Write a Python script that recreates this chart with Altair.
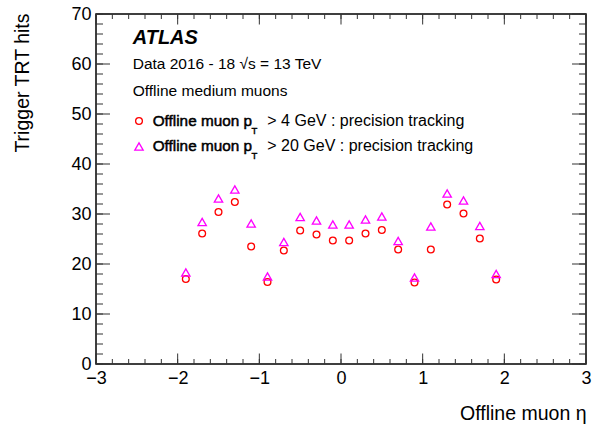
import altair as alt
import pandas as pd

# ---- data ----
eta = [-1.9, -1.7, -1.5, -1.3, -1.1, -0.9, -0.7, -0.5, -0.3, -0.1,
       0.1, 0.3, 0.5, 0.7, 0.9, 1.1, 1.3, 1.5, 1.7, 1.9]
hits_pt4 = [17.0, 26.1, 30.4, 32.4, 23.5, 16.4, 22.7, 26.7, 25.9, 24.7,
            24.7, 26.1, 26.8, 22.9, 16.3, 22.9, 31.9, 30.1, 25.1, 16.9]
hits_pt20 = [18.3, 28.4, 33.1, 34.9, 28.1, 17.5, 24.4, 29.4, 28.7, 27.9,
             27.9, 28.9, 29.5, 24.6, 17.3, 27.5, 34.1, 32.7, 27.6, 18.0]

x_labels = [-3, -2, -1, 0, 1, 2, 3]
y_labels = [0, 10, 20, 30, 40, 50, 60, 70]
x_minor = [round(-3 + 0.2 * i, 1) for i in range(31)]
y_minor = list(range(0, 71, 2))

W, H = 490, 350
FONT = "Liberation Sans"

pts = pd.DataFrame({"eta": eta, "pt4": hits_pt4, "pt20": hits_pt20})
xs = alt.Scale(domain=[-3, 3], nice=False, zero=False)
ys = alt.Scale(domain=[0, 70], nice=False, zero=False)

x_axis = alt.Axis(values=x_labels, ticks=False, tickSize=0, domain=False, grid=False,
                  labelFont=FONT, labelFontSize=18, labelColor="black", labelPadding=5,
                  labelFlush=False, labelOverlap=False,
                  title="Offline muon η", titleFont=FONT, titleFontSize=19.5,
                  titleFontWeight="normal", titleColor="black",
                  titleX=W, titleY=55, titleAlign="right", titleBaseline="alphabetic")
y_axis = alt.Axis(values=y_labels, ticks=False, tickSize=0, domain=False, grid=False,
                  labelFont=FONT, labelFontSize=18, labelColor="black", labelPadding=5,
                  labelFlush=False, labelOverlap=False,
                  title="Trigger TRT hits", titleFont=FONT, titleFontSize=19.5,
                  titleFontWeight="normal", titleColor="black", titleAngle=270,
                  titleX=-68, titleY=-1, titleAlign="right", titleBaseline="alphabetic")

circ = alt.Chart(pts).mark_point(shape="circle", filled=False, color="#ff0000", size=46,
                                 strokeWidth=1.3, opacity=1).encode(
    x=alt.X("eta:Q", scale=xs, axis=x_axis),
    y=alt.Y("pt4:Q", scale=ys, axis=y_axis))
tri = alt.Chart(pts).mark_point(shape="triangle-up", filled=False, color="#ff00ff", size=70,
                                strokeWidth=1.3, opacity=1).encode(
    x=alt.X("eta:Q", scale=xs, axis=x_axis),
    y=alt.Y("pt20:Q", scale=ys, axis=y_axis))

TICK_COLOR = "#333333"


def xticks(vals, length, top):
    df = pd.DataFrame({"v": vals})
    if top:
        yy, yy2 = alt.value(0), alt.value(length)
    else:
        yy, yy2 = alt.value(H), alt.value(H - length)
    return alt.Chart(df).mark_rule(color=TICK_COLOR, strokeWidth=1).encode(
        x=alt.X("v:Q", scale=xs, axis=x_axis), y=yy, y2=yy2)


def yticks(vals, length, right):
    df = pd.DataFrame({"v": vals})
    if right:
        xx, xx2 = alt.value(W), alt.value(W - length)
    else:
        xx, xx2 = alt.value(0), alt.value(length)
    return alt.Chart(df).mark_rule(color=TICK_COLOR, strokeWidth=1).encode(
        y=alt.Y("v:Q", scale=ys, axis=y_axis), x=xx, x2=xx2)


ticks = [
    xticks(x_labels, 10.5, False), xticks(x_minor, 5, False),
    xticks(x_labels, 10.5, True), xticks(x_minor, 5, True),
    yticks(y_labels, 14, False), yticks(y_minor, 7, False),
    yticks(y_labels, 14, True), yticks(y_minor, 7, True),
]


def txt(s, x, y, size, **kw):
    return alt.Chart(pd.DataFrame({"t": [s]})).mark_text(
        align="left", baseline="alphabetic", font=FONT, fontSize=size, color="black", **kw
    ).encode(x=alt.value(x), y=alt.value(y), text="t:N")


def marker(shape, color, size, x, y):
    return alt.Chart(pd.DataFrame({"k": [0]})).mark_point(
        shape=shape, filled=False, color=color, size=size, strokeWidth=1.3, opacity=1
    ).encode(x=alt.value(x), y=alt.value(y))


texts = [
    txt("ATLAS", 36.7, 29.5, 20, fontWeight="bold", fontStyle="italic"),
    txt("Data 2016 - 18  √s = 13 TeV", 36.7, 55, 15.5),
    txt("Offline medium muons", 36.7, 82, 15.5),
    txt("Offline muon p", 56.7, 111.5, 15.3, stroke="black", strokeWidth=0.5),
    txt("T", 155.5, 120, 9.5, stroke="black", strokeWidth=0.4),
    txt("> 4 GeV : precision tracking", 171.3, 111.5, 16),
    txt("Offline muon p", 56.7, 136.5, 15.3, stroke="black", strokeWidth=0.5),
    txt("T", 155.5, 145, 9.5, stroke="black", strokeWidth=0.4),
    txt("> 20 GeV : precision tracking", 171.3, 136.5, 16),
    marker("circle", "#ff0000", 46, 43, 107),
    marker("triangle-up", "#ff00ff", 70, 43, 132.5),
]

chart = alt.layer(circ, tri, *ticks, *texts).properties(
    width=W, height=H,
    padding={"left": 96, "top": 14, "right": 9, "bottom": 66},
    autosize=alt.AutoSizeParams(type="none"),
    background="white",
).configure_view(stroke="black", strokeWidth=1.5)

chart.save("out.html", embed_options={"renderer": "svg", "actions": False})
